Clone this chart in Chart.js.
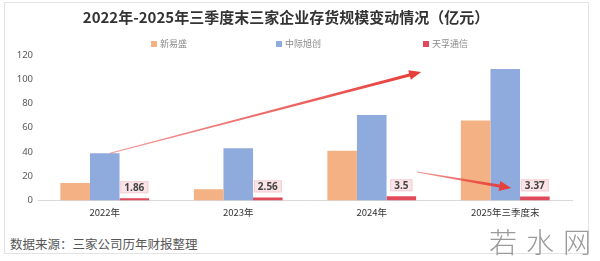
<!DOCTYPE html>
<html lang="zh-CN">
<head>
<meta charset="utf-8">
<title>存货规模变动情况</title>
<script src="https://cdn.jsdelivr.net/npm/chart.js@4.4.1/dist/chart.umd.min.js"></script>
<style>
  html, body { margin: 0; padding: 0; background: #fff; }
  body { width: 600px; height: 261px; position: relative; overflow: hidden;
         font-family: "Noto Sans CJK SC", "Noto Sans", sans-serif; }
  .frame { position: absolute; left: 4px; top: 2px; width: 585px; height: 252px;
           border: 1px solid #e4e4e4; box-sizing: border-box; }
  #wrap { position: absolute; left: 0; top: 0; width: 600px; height: 230px; }
  .legend { position: absolute; top: 37px; left: 0; width: 600px; height: 14px;
            font-size: 9px; color: #8a8a8a; }
  .legend span { position: absolute; top: 0; line-height: 14px; white-space: nowrap; }
  .legend i { display: inline-block; width: 6px; height: 6px; margin-right: 3px;
              vertical-align: 0; }
  .source { position: absolute; left: 10px; top: 234px; font-size: 12.5px; color: #555; }
  .mark { position: absolute; left: 489px; top: 221px; font-size: 28px; color: #9a9a9a;
          letter-spacing: 9px; font-weight: 300; }
</style>
</head>
<body>
<div class="frame"></div>
<div id="wrap"><canvas id="chart"></canvas></div>
<div class="legend" id="legend"></div>
<div class="source">数据来源：三家公司历年财报整理</div>
<div class="mark">若水网</div>
<script>
  // 数据（亿元）
  const categories = ['2022年', '2023年', '2024年', '2025年三季度末'];
  const seriesNames = ['新易盛', '中际旭创', '天孚通信'];
  const xinyisheng = [14.5, 9.3, 41, 66];
  const zhongjixuchuang = [39, 43, 70.5, 108.5];
  const tianfutongxin = [1.86, 2.56, 3.5, 3.37];

  const COLORS = ['#f4b183', '#8faadc', '#e04a5a'];
  const LEGEND_X = [151, 276, 423];

  // 图例（HTML，间距较大，Chart.js 自带图例做不到）
  const legendEl = document.getElementById('legend');
  seriesNames.forEach((name, i) => {
    const s = document.createElement('span');
    s.style.left = LEGEND_X[i] + 'px';
    s.innerHTML = '<i style="background:' + COLORS[i] + '"></i>' + name;
    legendEl.appendChild(s);
  });

  // 红色箭头标注：起点 / 终点用 [类别序号, 数值]
  const arrows = [
    { from: [0.04, 39], to: [2.37, 106] },
    { from: [2.34, 23.5], to: [3.045, 10.3] },
  ];

  const arrowPlugin = {
    id: 'arrows',
    afterDatasetsDraw(chart) {
      const { ctx, scales: { x, y } } = chart;
      arrows.forEach((a) => {
        const x0 = x.getPixelForValue(a.from[0]), y0 = y.getPixelForValue(a.from[1]);
        const x1 = x.getPixelForValue(a.to[0]), y1 = y.getPixelForValue(a.to[1]);
        const ang = Math.atan2(y1 - y0, x1 - x0);
        const len = Math.hypot(x1 - x0, y1 - y0);
        const head = 12, hw = 5;
        ctx.save();
        ctx.translate(x0, y0);
        ctx.rotate(ang);
        const g = ctx.createLinearGradient(0, 0, len, 0);
        g.addColorStop(0, 'rgba(232,70,70,0.55)');
        g.addColorStop(1, 'rgba(232,60,55,1)');
        ctx.fillStyle = g;
        ctx.beginPath();
        ctx.moveTo(0, -0.5);
        ctx.lineTo(len - head, -1.6);
        ctx.lineTo(len - head, -hw);
        ctx.lineTo(len, 0);
        ctx.lineTo(len - head, hw);
        ctx.lineTo(len - head, 1.6);
        ctx.lineTo(0, 0.5);
        ctx.closePath();
        ctx.fill();
        ctx.restore();
      });
    },
  };

  // 天孚通信数值标签（粉色底框）
  const labelPlugin = {
    id: 'redLabels',
    afterDatasetsDraw(chart) {
      const { ctx } = chart;
      const meta = chart.getDatasetMeta(2);
      ctx.save();
      ctx.font = 'bold 10px "Noto Sans", "DejaVu Sans", sans-serif';
      ctx.textAlign = 'center';
      ctx.textBaseline = 'middle';
      meta.data.forEach((bar, i) => {
        const text = String(tianfutongxin[i]);
        const w = ctx.measureText(text).width + 8;
        const h = 12;
        const cx = bar.x, cy = bar.y - 5 - h / 2;
        ctx.fillStyle = '#fbe4e7';
        ctx.fillRect(cx - w / 2, cy - h / 2, w, h);
        ctx.strokeStyle = '#f3cfd4';
        ctx.lineWidth = 1;
        ctx.strokeRect(cx - w / 2 + 0.5, cy - h / 2 + 0.5, w - 1, h - 1);
        ctx.fillStyle = '#444';
        ctx.fillText(text, cx, cy + 0.5);
      });
      ctx.restore();
    },
  };

  new Chart(document.getElementById('chart'), {
    type: 'bar',
    data: {
      labels: categories,
      datasets: [
        { label: seriesNames[0], data: xinyisheng, backgroundColor: COLORS[0] },
        { label: seriesNames[1], data: zhongjixuchuang, backgroundColor: COLORS[1] },
        { label: seriesNames[2], data: tianfutongxin, backgroundColor: COLORS[2] },
      ],
    },
    options: {
      responsive: true,
      maintainAspectRatio: false,
      animation: false,
      datasets: { bar: { categoryPercentage: 0.665, barPercentage: 1 } },
      layout: { padding: { top: 4, left: 0, right: 28, bottom: 5.5 } },
      plugins: {
        legend: { display: false },
        tooltip: { enabled: false },
        title: {
          display: true,
          text: '2022年-2025年三季度末三家企业存货规模变动情况（亿元）',
          color: '#333',
          font: { size: 15, weight: 'bold', family: '"Noto Sans CJK SC", sans-serif', lineHeight: 1.2 },
          padding: { top: 4, bottom: 29 },
        },
      },
      scales: {
        x: {
          grid: { display: false, drawTicks: false },
          border: { display: true, color: '#d9d9d9' },
          ticks: { color: '#333', padding: 6, font: { size: 9.5, family: '"Noto Sans CJK SC", sans-serif' } },
          afterFit: (scale) => { scale.height = 24; },
        },
        y: {
          min: 0,
          max: 120,
          grid: { display: false, drawTicks: false },
          border: { display: false },
          ticks: { stepSize: 20, color: '#595959', padding: 5, font: { size: 9.5, family: '"Noto Sans", sans-serif' } },
          afterFit: (scale) => { scale.width = 38; },
        },
      },
    },
    plugins: [labelPlugin, arrowPlugin],
  });
</script>
</body>
</html>
